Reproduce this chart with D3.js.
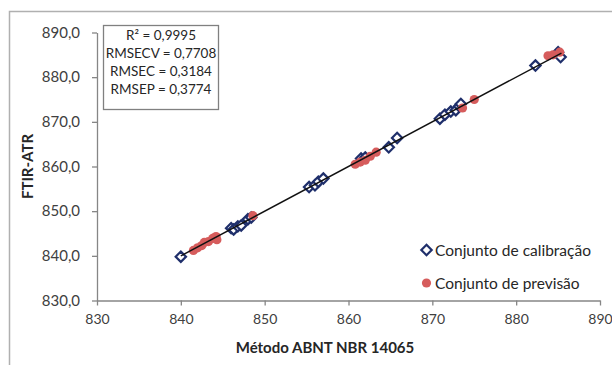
<!DOCTYPE html>
<html><head><meta charset="utf-8">
<script src="https://cdn.jsdelivr.net/npm/d3@7"></script>
<style>body{margin:0;background:#fff}svg{display:block}text{font-family:Lato,"Open Sans",sans-serif}</style>
</head><body><div id="chart"></div>
<script>
const xTicks = [830, 840, 850, 860, 870, 880, 890];
const yTicks = [830, 840, 850, 860, 870, 880, 890];
const calibX = [840.0, 846.0, 846.3, 846.8, 847.2, 848.0, 848.4, 855.3, 856.0, 856.4, 857.0, 861.5, 862.0, 864.8, 865.8, 870.9, 871.5, 872.2, 872.8, 873.2, 873.4, 882.3, 885.0, 885.3];
const calibY = [839.8, 846.2, 845.9, 846.6, 846.8, 848.2, 848.6, 855.4, 855.8, 856.6, 857.3, 861.8, 862.0, 864.3, 866.4, 870.7, 871.6, 872.3, 872.6, 873.5, 874.0, 882.6, 885.6, 884.5];
const predX = [841.5, 842.0, 842.5, 842.8, 843.3, 843.8, 844.2, 844.3, 848.6, 860.8, 861.4, 862.0, 862.6, 863.3, 873.6, 875.0, 883.8, 884.4, 885.2];
const predY = [841.2, 841.8, 842.3, 843.0, 843.2, 843.9, 844.3, 843.6, 849.0, 860.5, 861.0, 861.4, 862.3, 863.2, 873.1, 875.0, 884.8, 885.0, 885.6];
const fitLine = [[840.0, 840.0], [885.4, 885.4]];
const statsLines = ["R² = 0,9995", "RMSECV = 0,7708", "RMSEC = 0,3184", "RMSEP = 0,3774"];
const legendLabels = ["Conjunto de calibração", "Conjunto de previsão"];
const xTitle = "Método ABNT NBR 14065";
const yTitle = "FTIR-ATR";

const W = 612, H = 365;
const svg = d3.select("#chart").append("svg").attr("width", W).attr("height", H);
svg.append("rect").attr("x", 9.5).attr("y", 11.5).attr("width", 700).attr("height", 500)
  .attr("fill", "#fff").attr("stroke", "#b0b0b0").attr("stroke-width", 1.5);

const x = d3.scaleLinear().domain([830, 890]).range([97, 600]);
const y = d3.scaleLinear().domain([830, 890]).range([300.5, 32.5]);
const fmt = d => d3.format(".1f")(d).replace(".", ",");

const xAxis = svg.append("g").attr("transform", "translate(0,300.5)")
  .call(d3.axisBottom(x).tickValues(xTicks).tickSize(5).tickSizeOuter(0).tickPadding(9).tickFormat(d3.format("d")));
const yAxis = svg.append("g").attr("transform", "translate(97,0)")
  .call(d3.axisLeft(y).tickValues(yTicks).tickSize(5).tickSizeOuter(0).tickPadding(12).tickFormat(fmt));
[xAxis, yAxis].forEach(a => {
  a.select(".domain").attr("stroke", "#868686").attr("stroke-width", 1.3);
  a.selectAll(".tick line").attr("stroke", "#868686").attr("stroke-width", 1.3);
  a.selectAll(".tick text").attr("fill", "#404040").style("font-size", "15px").style("font-family", "Lato");
});
xAxis.selectAll(".tick text").style("font-size", "14px");

svg.append("text").attr("x", 325).attr("y", 353).attr("text-anchor", "middle")
  .style("font-size", "15px").style("font-weight", "bold").attr("fill", "#262626").text(xTitle);
svg.append("text").attr("transform", "translate(33,166.5) rotate(-90)").attr("text-anchor", "middle")
  .style("font-size", "15px").style("font-weight", "bold").attr("fill", "#262626").text(yTitle);

const calib = calibX.map((v, i) => [v, calibY[i]]);
const pred = predX.map((v, i) => [v, predY[i]]);
const diamond = d3.symbol().type(d3.symbolDiamond2).size(68);

svg.append("g").selectAll("path").data(calib).join("path")
  .attr("d", diamond).attr("transform", d => `translate(${x(d[0])},${y(d[1])})`)
  .attr("fill", "#fff").attr("stroke", "#1f2f6b").attr("stroke-width", 2.2);
svg.append("g").selectAll("circle").data(pred).join("circle")
  .attr("cx", d => x(d[0])).attr("cy", d => y(d[1])).attr("r", 4.6)
  .attr("fill", "#d65c5c");
svg.append("path").datum(fitLine).attr("d", d3.line().x(d => x(d[0])).y(d => y(d[1])))
  .attr("stroke", "#111").attr("stroke-width", 1.5).attr("fill", "none");

// stats box
const box = svg.append("g");
box.append("rect").attr("x", 103.5).attr("y", 25.5).attr("width", 115).attr("height", 84)
  .attr("fill", "#fff").attr("stroke", "#808080").attr("stroke-width", 1.3);
statsLines.forEach((t, i) => {
  box.append("text").attr("x", 161).attr("y", 40 + i * 18).attr("text-anchor", "middle")
    .style("font-size", "13.5px").attr("fill", "#262626").text(t);
});

// legend
const leg = svg.append("g");
leg.append("path").attr("d", diamond).attr("transform", "translate(426.5,250)")
  .attr("fill", "#fff").attr("stroke", "#1f2f6b").attr("stroke-width", 2.2);
leg.append("circle").attr("cx", 426.5).attr("cy", 283).attr("r", 4.6).attr("fill", "#d65c5c");
legendLabels.forEach((t, i) => {
  leg.append("text").attr("x", 435).attr("y", 255.5 + i * 33)
    .style("font-size", "15.5px").attr("fill", "#262626").text(t);
});
</script></body></html>
